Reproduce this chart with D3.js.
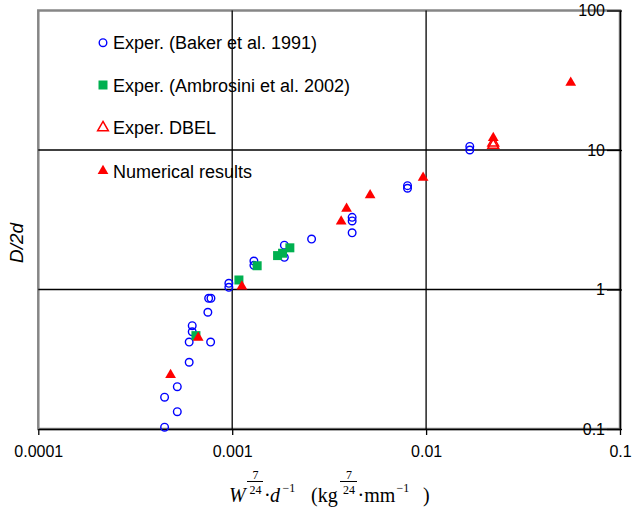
<!DOCTYPE html>
<html>
<head>
<meta charset="utf-8">
<script src="https://cdn.jsdelivr.net/npm/d3@7"></script>
<style>
  html, body { margin: 0; padding: 0; background: #fff; }
  svg { display: block; }
  text { font-family: "Liberation Sans", Arial, sans-serif; }
</style>
</head>
<body>
<svg id="chart" width="633" height="510"></svg>
<script>
// ---- Data ----
const bakerX = [0.000961, 0.000961, 0.000756, 0.000777, 0.000749, 0.000622, 0.000622, 0.000600, 0.000774, 0.000600,
                0.000521, 0.000448, 0.000521, 0.000448, 0.001294, 0.001294, 0.001858, 0.001858, 0.002567, 0.004155,
                0.004155, 0.004155, 0.00802, 0.00802, 0.0168, 0.0168];
const bakerY = [1.108, 1.037, 0.865, 0.865, 0.687, 0.550, 0.498, 0.420, 0.420, 0.301,
                0.201, 0.169, 0.133, 0.103, 1.60, 1.49, 2.08, 1.70, 2.30, 3.29,
                3.10, 2.55, 5.55, 5.32, 10.6, 10.0];

const ambX = [0.000650, 0.001083, 0.001345, 0.001714, 0.001819, 0.001983];
const ambY = [0.467, 1.17, 1.48, 1.75, 1.82, 1.99];

const dbelX = [0.0222, 0.0222];
const dbelY = [11.25, 10.82];

const numX = [0.000481, 0.000668, 0.001122, 0.003647, 0.003888, 0.005144, 0.00965, 0.0222, 0.0557];
const numY = [0.244, 0.451, 1.051, 3.08, 3.80, 4.74, 6.33, 12.2, 30.4];

const xTicks = [0.0001, 0.001, 0.01, 0.1];
const xTickLabels = ["0.0001", "0.001", "0.01", "0.1"];
const yTicks = [0.1, 1, 10, 100];
const yTickLabels = ["0.1", "1", "10", "100"];
const xGrid = [0.001, 0.01];
const yGrid = [1, 10];

const legendLabels = ["Exper. (Baker et al. 1991)", "Exper. (Ambrosini et al. 2002)", "Exper. DBEL", "Numerical results"];

// ---- Layout ----
const svg = d3.select("#chart");
const L = 38.3, R = 620, T = 10.5, B = 429;

const x = d3.scaleLog().domain([1e-4, 0.1]).range([L, R]);
const y = d3.scaleLog().domain([0.1, 100]).range([B, T]);

// Plot area border (gray)
svg.append("rect")
  .attr("x", L).attr("y", T)
  .attr("width", R - L).attr("height", B - T)
  .attr("fill", "none").attr("stroke", "#868686").attr("stroke-width", 2.5);

// Gridlines
svg.append("g").selectAll("line").data(xGrid).join("line")
  .attr("x1", d => x(d)).attr("x2", d => x(d))
  .attr("y1", T).attr("y2", B)
  .attr("stroke", "#000").attr("stroke-width", 1.3);
svg.append("g").selectAll("line").data(yGrid).join("line")
  .attr("x1", L).attr("x2", R)
  .attr("y1", d => y(d)).attr("y2", d => y(d))
  .attr("stroke", "#000").attr("stroke-width", 1.3);

// Bottom axis
const xAxis = svg.append("g")
  .attr("transform", `translate(0,${B})`)
  .call(d3.axisBottom(x).tickValues(xTicks).tickFormat((d, i) => xTickLabels[i]).tickSizeInner(6).tickSizeOuter(0));
xAxis.select(".domain").attr("stroke", "#000").attr("stroke-width", 1.5);
xAxis.selectAll(".tick line").attr("stroke", "#000").attr("stroke-width", 1.3);
xAxis.selectAll(".tick text")
  .attr("dy", null).attr("y", 28)
  .attr("font-size", 16).attr("fill", "#000")
  .style("font-family", '"Liberation Sans", Arial, sans-serif');

// Right-side axis with labels inside
const yAxis = svg.append("g")
  .attr("transform", `translate(${R},0)`)
  .call(d3.axisLeft(y).tickValues(yTicks).tickFormat((d, i) => yTickLabels[i]).tickSizeInner(13).tickSizeOuter(0).tickPadding(2));
yAxis.select(".domain").attr("stroke", "#000").attr("stroke-width", 1.5);
yAxis.selectAll(".tick line").attr("stroke", "#000").attr("stroke-width", 1.3).attr("x2", -13).attr("x1", 2);
yAxis.selectAll(".tick text")
  .attr("font-size", 16).attr("fill", "#000")
  .style("font-family", '"Liberation Sans", Arial, sans-serif');

// ---- Series ----
const blue = "#0000FF", green = "#00B050", red = "#FF0000";
const triPath = d3.symbol().type(d3.symbolTriangle).size(50)();
const sqPath = d3.symbol().type(d3.symbolSquare).size(81)();

svg.append("g").selectAll("circle").data(bakerX.map((v, i) => [v, bakerY[i]])).join("circle")
  .attr("cx", d => x(d[0])).attr("cy", d => y(d[1])).attr("r", 3.8)
  .attr("fill", "none").attr("stroke", blue).attr("stroke-width", 1.4);

svg.append("g").selectAll("path").data(ambX.map((v, i) => [v, ambY[i]])).join("path")
  .attr("d", sqPath)
  .attr("transform", d => `translate(${x(d[0])},${y(d[1])})`)
  .attr("fill", green);

svg.append("g").selectAll("path").data(dbelX.map((v, i) => [v, dbelY[i]])).join("path")
  .attr("d", triPath)
  .attr("transform", d => `translate(${x(d[0])},${y(d[1])})`)
  .attr("fill", "none").attr("stroke", red).attr("stroke-width", 1.5);

svg.append("g").selectAll("path").data(numX.map((v, i) => [v, numY[i]])).join("path")
  .attr("d", triPath)
  .attr("transform", d => `translate(${x(d[0])},${y(d[1])})`)
  .attr("fill", red);

// ---- Legend ----
const legY = [42.7, 85, 127.7, 171];
const leg = svg.append("g");
legendLabels.forEach((lab, i) => {
  const g = leg.append("g").attr("transform", `translate(103,${legY[i]})`);
  if (i === 0) g.append("circle").attr("r", 3.8).attr("fill", "none").attr("stroke", blue).attr("stroke-width", 1.4);
  if (i === 1) g.append("path").attr("d", sqPath).attr("fill", green);
  if (i === 2) g.append("path").attr("d", triPath).attr("fill", "none").attr("stroke", red).attr("stroke-width", 1.5);
  if (i === 3) g.append("path").attr("d", triPath).attr("fill", red);
  g.append("text").attr("x", 10).attr("y", 6.6).attr("font-size", 18).attr("fill", "#000").text(lab);
});

// ---- Axis titles ----
svg.append("text")
  .attr("transform", "translate(23,243) rotate(-90)")
  .attr("text-anchor", "middle")
  .attr("font-size", 19).attr("font-style", "italic").attr("fill", "#000")
  .text("D/2d");

const serif = '"Liberation Serif", "Times New Roman", serif';
const tt = svg.append("g").style("font-family", serif).attr("fill", "#000");
function piece(xp, yp, str, size, italic, anchor) {
  tt.append("text").attr("x", xp).attr("y", yp).attr("font-size", size)
    .attr("font-style", italic ? "italic" : "normal")
    .attr("text-anchor", anchor || "start")
    .style("font-family", serif).text(str);
}
function frac(cx, x1, x2) {
  piece(cx, 479, "7", 12, false, "middle");
  tt.append("line").attr("x1", x1).attr("x2", x2).attr("y1", 481.5).attr("y2", 481.5)
    .attr("stroke", "#000").attr("stroke-width", 1);
  piece(cx, 493.5, "24", 12, false, "middle");
}
const base = 501.5;
piece(229, base, "W", 20, true);
frac(255.5, 247, 263);
piece(264, base, "·", 20, false);
piece(270, base, "d", 20, true);
piece(282.5, 492, "−1", 12, false);
piece(311, base, "(kg", 20, false);
frac(349, 340, 357);
piece(357.5, base, "·mm", 20, false);
piece(396.5, 492, "−1", 12, false);
piece(423, base, ")", 20, false);
</script>
</body>
</html>
